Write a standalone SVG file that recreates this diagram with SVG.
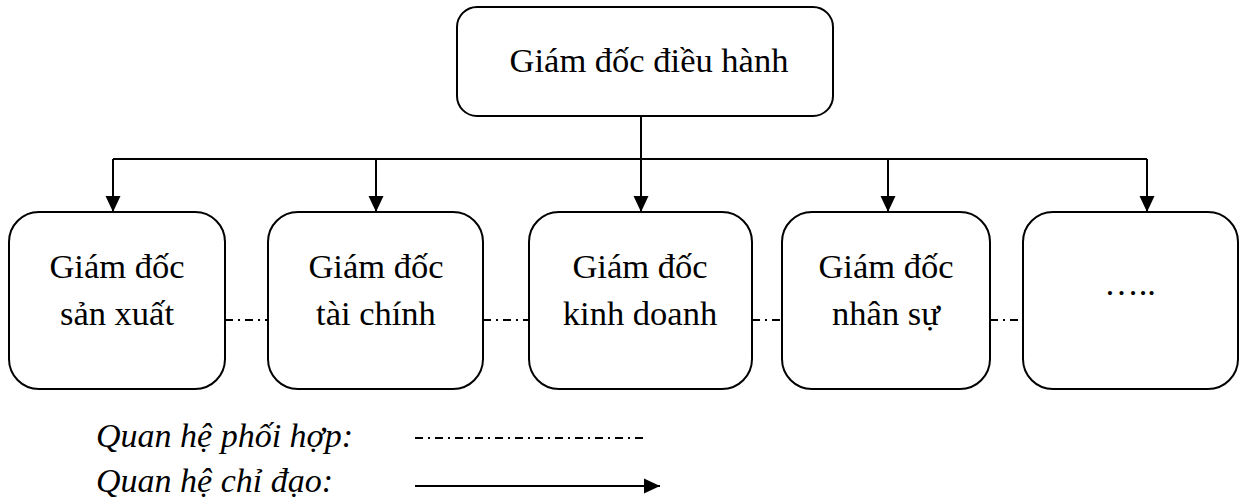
<svg xmlns="http://www.w3.org/2000/svg" width="1247" height="501" viewBox="0 0 1247 501">
<defs>
<marker id="arr" viewBox="0 0 16 16" refX="16" refY="8" markerWidth="16" markerHeight="16" markerUnits="userSpaceOnUse" orient="auto">
<path d="M0,0.5 L16,8 L0,15.5 Z" fill="#000"/>
</marker>
<style>
.box{fill:#fff;stroke:#000;stroke-width:2}
.t{font-family:"Liberation Serif","Times New Roman",serif;font-size:34.5px;fill:#000;text-anchor:middle}
.lg{font-family:"Liberation Serif","Times New Roman",serif;font-size:34px;font-style:italic;fill:#000}
.ln{fill:none;stroke:#000;stroke-width:2}
.dd{fill:none;stroke:#000;stroke-width:2;stroke-dasharray:8 5 2 5}
</style>
</defs>
<rect width="1247" height="501" fill="#fff"/>
<g id="connectors">
<path class="ln" d="M641,116 V159"/>
<path class="ln" d="M113,159 H1147"/>
<path class="ln" d="M113,159 V212" marker-end="url(#arr)"/>
<path class="ln" d="M376,159 V212" marker-end="url(#arr)"/>
<path class="ln" d="M641,159 V212" marker-end="url(#arr)"/>
<path class="ln" d="M888,159 V212" marker-end="url(#arr)"/>
<path class="ln" d="M1147,159 V212" marker-end="url(#arr)"/>
<path class="dd" d="M225,320 H268"/>
<path class="dd" d="M483,320 H529"/>
<path class="dd" d="M752,320 H782"/>
<path class="dd" d="M990,320 H1023"/>
</g>
<g id="ceo">
<rect class="box" x="457" y="7" width="376" height="109" rx="20"/>
<text class="t" x="649" y="72">Giám đốc điều hành</text>
</g>
<g id="sanxuat">
<rect class="box" x="9" y="212" width="216" height="177" rx="30"/>
<text class="t" x="117" y="278">Giám đốc</text>
<text class="t" x="117" y="325">sản xuất</text>
</g>
<g id="taichinh">
<rect class="box" x="268" y="212" width="215" height="177" rx="30"/>
<text class="t" x="376" y="278">Giám đốc</text>
<text class="t" x="376" y="325">tài chính</text>
</g>
<g id="kinhdoanh">
<rect class="box" x="529" y="212" width="223" height="177" rx="30"/>
<text class="t" x="640" y="278">Giám đốc</text>
<text class="t" x="640" y="325">kinh doanh</text>
</g>
<g id="nhansu">
<rect class="box" x="782" y="212" width="208" height="177" rx="30"/>
<text class="t" x="886" y="278">Giám đốc</text>
<text class="t" x="886" y="325">nhân sự</text>
</g>
<g id="khac">
<rect class="box" x="1023" y="212" width="215" height="177" rx="30"/>
<text class="t" x="1130" y="295">…..</text>
</g>
<g id="legend">
<text class="lg" x="96" y="447">Quan hệ phối hợp:</text>
<text class="lg" x="96" y="492">Quan hệ chỉ đạo:</text>
<path class="dd" d="M415,438 H647"/>
<path class="ln" d="M415,486 H660" marker-end="url(#arr)"/>
</g>
</svg>
